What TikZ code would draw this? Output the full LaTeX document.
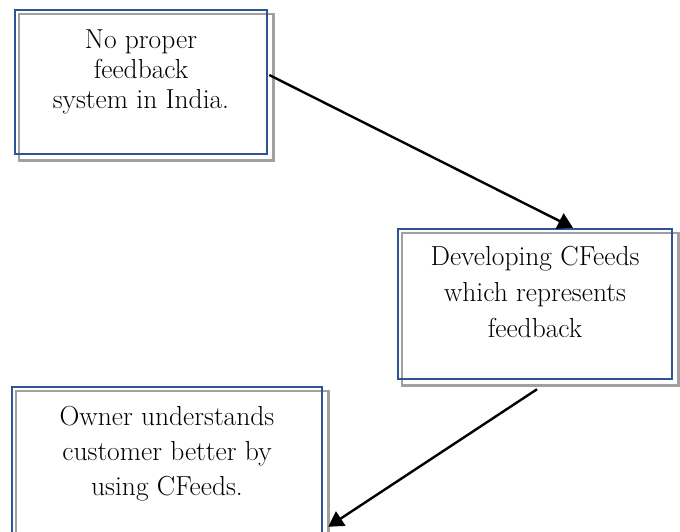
\documentclass[tikz,border=0pt]{standalone}
\usetikzlibrary{arrows.meta,backgrounds}
\definecolor{boxblue}{RGB}{47,84,150}
\definecolor{boxgray}{RGB}{160,160,160}
\tikzset{
  panel/.style={draw=boxblue, line width=2.5pt, inner sep=0pt, fill=none},
  panelshadow/.style={draw=boxgray, line width=2.5pt},
  label/.style={inner sep=0pt, align=center, anchor=north},
  flow/.style={line width=2.4pt, -{Triangle[length=15pt,width=17pt]}}
}
\begin{document}
\begin{tikzpicture}[x=1pt,y=-1pt]
\useasboundingbox (0,0) rectangle (680,531);

% boxes
\node[panel, minimum width=252pt, minimum height=144pt] (b1) at (141,82) {};
\node[panel, minimum width=274pt, minimum height=150pt] (b2) at (535,304) {};
\node[panel, minimum width=310pt, minimum height=180pt] (b3) at (167,477) {};

% offset grey frames behind each box
\begin{scope}[on background layer]
  \foreach \b in {b1,b2,b3}
    \draw[panelshadow] ([xshift=5pt,yshift=-5pt]\b.south west) rectangle ([xshift=5pt,yshift=-5pt]\b.north east);
\end{scope}

% texts
\node[label, font=\fontsize{27.5}{30}\selectfont] (t1) at (141,29.2)
  {No proper\\feedback\\system in India.};
\node[label, font=\fontsize{27.5}{36}\selectfont] (t2) at (535,245.9)
  {Developing CFeeds\\which represents\\feedback};
\node[label, font=\fontsize{27.5}{35}\selectfont] (t3) at (167,405.9)
  {Owner understands\\customer better by\\using CFeeds.};

% connectors
\draw[flow] ([xshift=1pt,yshift=7pt]b1.east) -- ([xshift=38pt]b2.north);
\draw[flow] ([xshift=2pt,yshift=-9pt]b2.south) -- ([xshift=5pt,yshift=-141pt]b3.north east);
\end{tikzpicture}
\end{document}
